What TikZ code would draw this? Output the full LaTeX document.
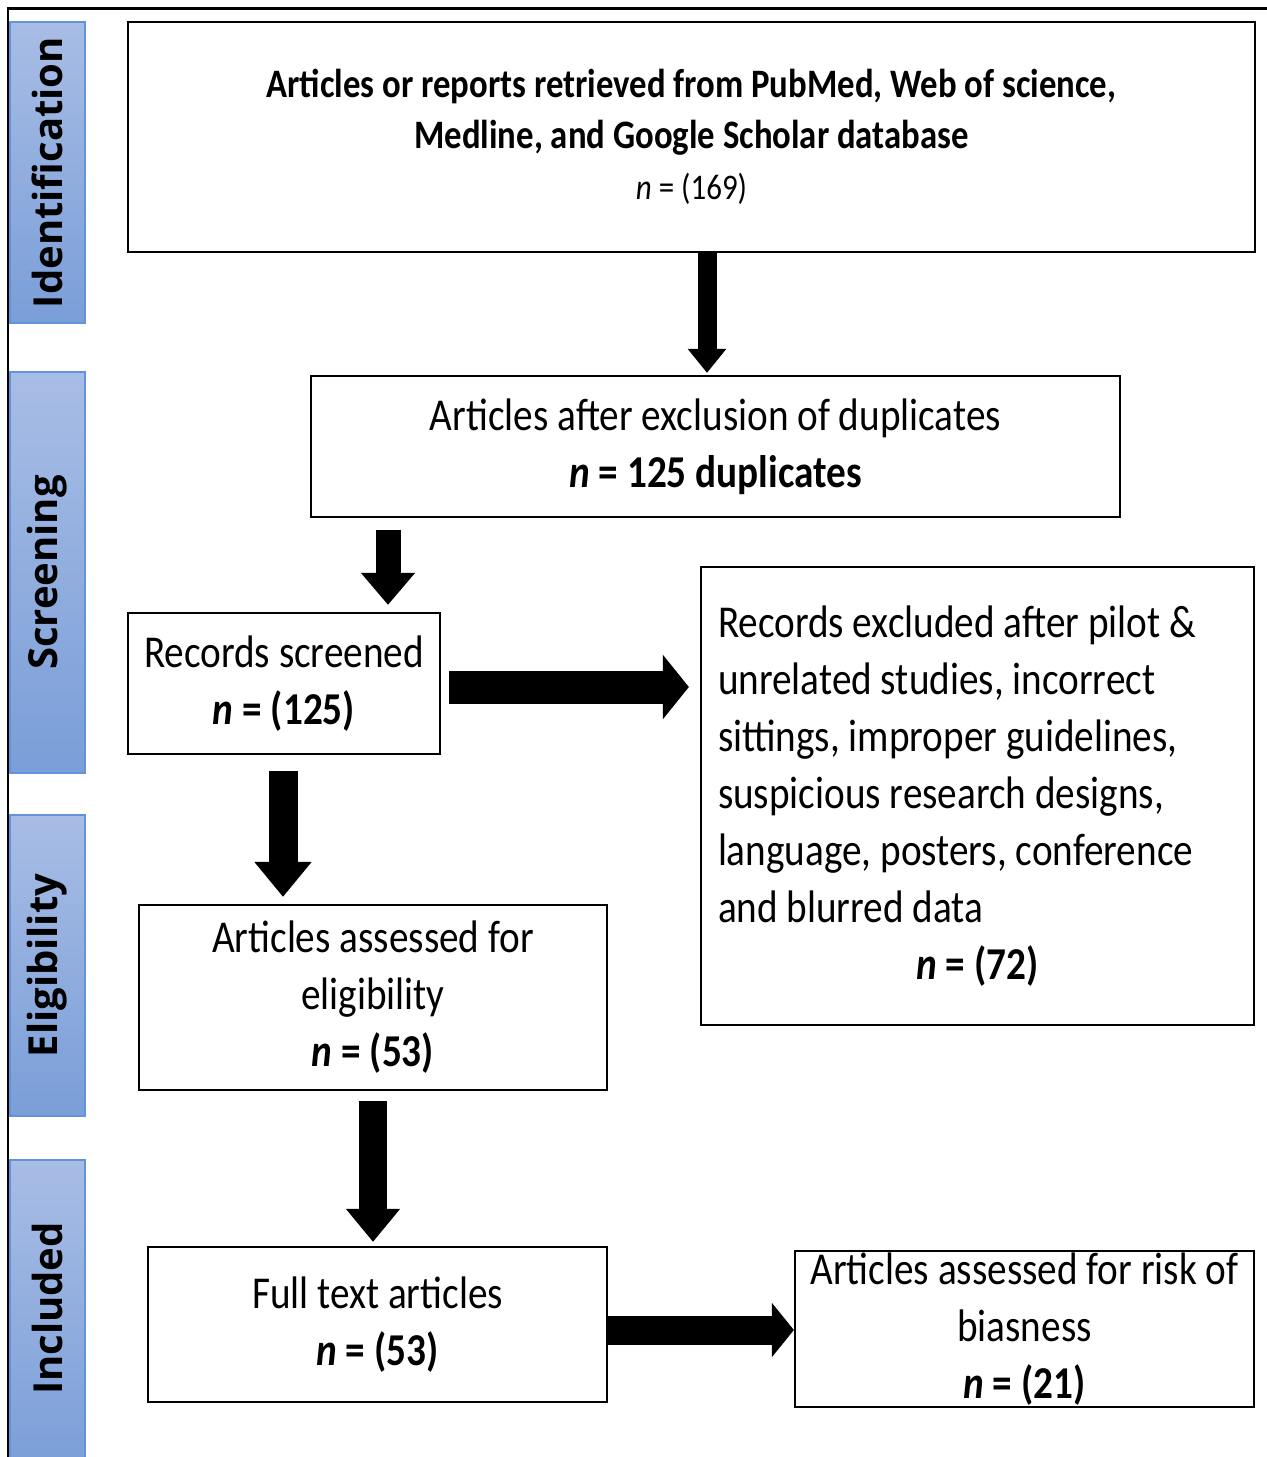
\documentclass[tikz,border=0pt]{standalone}
\usepackage{fontspec}
\setmainfont{Carlito}[FakeStretch=0.86]
\newfontfamily\phasefont{Open Sans}
\usetikzlibrary{arrows.meta}

\definecolor{phasetop}{RGB}{168,189,229}
\definecolor{phasebot}{RGB}{122,158,216}
\definecolor{phaseline}{RGB}{98,148,222}

\begin{document}
\begin{tikzpicture}[x=0.5pt, y=-0.5pt,
  box/.style={draw, line width=1.1pt, inner sep=0pt, align=center,
    font=\fontsize{22.8}{28.5}\selectfont},
  phase/.style={rotate=90, font=\phasefont\bfseries\fontsize{20}{20}\selectfont},
  flow/.style n args={3}{line width=#1, -{Triangle[width=#2, length=#3]}}]
\useasboundingbox (0,0) rectangle (1266,1457);

% Phase bars on the left
\foreach \top/\bot/\name/\lab in {22/323/ident/Identification, 372/773/screen/Screening,
    815/1116/elig/Eligibility, 1160/1470/incl/Included} {
  \shade[top color=phasetop, bottom color=phasebot, draw=phaseline, line width=0.6pt]
    (10,\top) rectangle (85,\bot);
  \node[phase] (\name) at (47.5,{(\top+min(\bot,1457))/2}) {\lab};
}

% Frame
\draw[line width=1.3pt] (8,1470) -- (8,8.5) -- (1275,8.5);

% Boxes
\node[box, minimum width=563.5pt, minimum height=115pt,
  font=\bfseries\fontsize{20.2}{25.5}\selectfont] (src) at (691.5,137)
  {Articles or reports retrieved from PubMed, Web of science,\\
   Medline, and Google Scholar database\\
   {\mdseries\fontsize{18}{24}\selectfont\textit{n} = (169)}};
\node[box, minimum width=404.5pt, minimum height=70.5pt] (dedup) at (715.5,446.5)
  {Articles after exclusion of duplicates\\ \textbf{\textit{n} = 125 duplicates}};
\node[box, minimum width=156pt, minimum height=70.5pt] (screened) at (284,683.5)
  {Records screened\\ \textbf{\textit{n} = (125)}};
\node[box, align=flush left, inner xsep=8.5pt, text width=259.5pt, minimum height=229pt]
  (excluded) at (977.5,796)
  {Records excluded after pilot \&\\
   unrelated studies, incorrect\\
   sittings, improper guidelines,\\
   suspicious research designs,\\
   language, posters, conference\\
   and blurred data\\
   \makebox[\hsize]{\textbf{\textit{n} = (72)}}};
\node[box, minimum width=234pt, minimum height=92.5pt] (eligible) at (373,997.5)
  {Articles assessed for\\ eligibility\\ \textbf{\textit{n} = (53)}};
\node[box, minimum width=229.5pt, minimum height=77.5pt] (fulltext) at (377.5,1324.5)
  {Full text articles\\ \textbf{\textit{n} = (53)}};
\node[box, minimum width=229.5pt, minimum height=78pt] (bias) at (1024.5,1329)
  {Articles assessed for risk of\\ biasness\\ \textbf{\textit{n} = (21)}};

% Block arrows
\draw[flow={9.5pt}{18.5pt}{12pt}, shorten >=1pt] (src.south -| 707,0) -- (dedup.north -| 707,0);
\draw[flow={12.5pt}{26pt}{16pt}, shorten <=6pt, shorten >=3.5pt]
  (dedup.south -| 388,0) -- (screened.north -| 388,0);
\draw[flow={16.5pt}{31.5pt}{13pt}, shorten <=4pt, shorten >=5.5pt]
  (screened.east |- 0,687) -- (excluded.west |- 0,687);
\draw[flow={14.5pt}{27.5pt}{17.5pt}, shorten <=8pt, shorten >=3.5pt]
  (screened.south -| 283,0) -- (eligible.north -| 283,0);
\draw[flow={14pt}{26pt}{16.5pt}, shorten <=5pt, shorten >=2pt]
  (eligible.south -| 373,0) -- (fulltext.north -| 373,0);
\draw[flow={14.5pt}{26.5pt}{11pt}] (fulltext.east |- 0,1330) -- (bias.west |- 0,1330);
\end{tikzpicture}
\end{document}
